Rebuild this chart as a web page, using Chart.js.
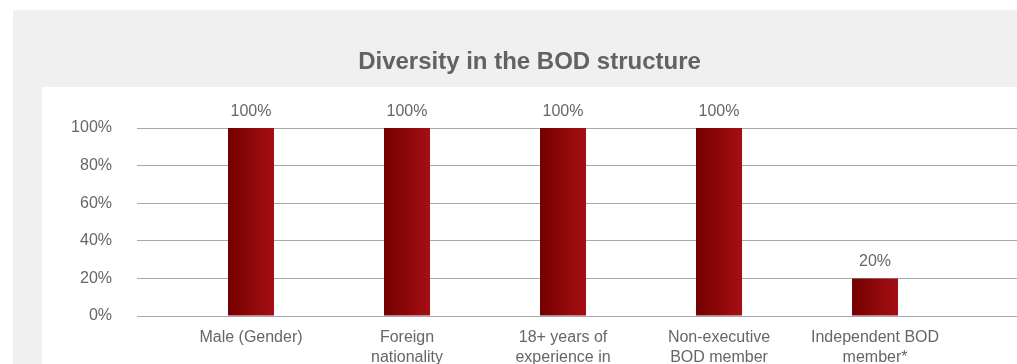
<!DOCTYPE html>
<html>
<head>
<meta charset="utf-8">
<script src="https://cdn.jsdelivr.net/npm/chart.js@4/dist/chart.umd.min.js"></script>
<style>
  html, body { margin: 0; padding: 0; background: #ffffff; overflow: hidden; width: 1017px; height: 364px; }
  #wrap { position: absolute; left: 0; top: 0; width: 1017px; height: 380px; }
</style>
</head>
<body>
<div id="wrap"><canvas id="c" width="1017" height="380"></canvas></div>
<script>
const title = 'Diversity in the BOD structure';
const categories = [
  ['Male (Gender)'],
  ['Foreign', 'nationality'],
  ['18+ years of', 'experience in'],
  ['Non-executive', 'BOD member'],
  ['Independent BOD', 'member*']
];
const values = [100, 100, 100, 100, 20];
const yTicks = [0, 20, 40, 60, 80, 100];

const FONT = "'Liberation Sans', Arial, Helvetica, sans-serif";
const TEXT = '#666666';
const GRID = '#a8a8a8';

const bgPlugin = {
  id: 'bg',
  beforeDraw(chart) {
    const ctx = chart.ctx;
    ctx.save();
    ctx.fillStyle = '#ffffff';
    ctx.fillRect(0, 0, chart.width, chart.height);
    ctx.fillStyle = '#f0f0f0';
    ctx.fillRect(13, 10, chart.width - 13, chart.height - 10);
    ctx.fillStyle = '#ffffff';
    ctx.fillRect(42, 87, chart.width - 42, chart.height - 87);
    ctx.restore();
  }
};

const labelPlugin = {
  id: 'valueLabels',
  afterDatasetsDraw(chart) {
    const ctx = chart.ctx;
    const meta = chart.getDatasetMeta(0);
    ctx.save();
    ctx.font = '16px ' + FONT;
    ctx.fillStyle = TEXT;
    ctx.textAlign = 'center';
    ctx.textBaseline = 'middle';
    meta.data.forEach((bar, i) => {
      ctx.fillText(values[i] + '%', bar.x, bar.y - 16.5);
    });
    ctx.restore();
  }
};

function barGradient(c) {
  const chart = c.chart;
  if (!chart.chartArea || c.dataIndex === undefined) return '#8a0a0e';
  const x = chart.scales.x.getPixelForValue(c.dataIndex);
  const half = 23;
  const g = chart.ctx.createLinearGradient(x - half, 0, x + half, 0);
  g.addColorStop(0, '#750000');
  g.addColorStop(0.5, '#8d0709');
  g.addColorStop(1, '#a50f16');
  return g;
}

new Chart(document.getElementById('c'), {
  type: 'bar',
  data: {
    datasets: [{
      data: values.map((v, i) => ({ x: i, y: v })),
      backgroundColor: barGradient,
      borderWidth: 0,
      categoryPercentage: 1,
      barPercentage: 0.295
    }]
  },
  options: {
    responsive: false,
    animation: false,
    devicePixelRatio: 1,
    layout: { padding: { left: 42, right: 0, top: 0, bottom: 0 } },
    plugins: {
      legend: { display: false },
      tooltip: { enabled: false },
      title: {
        display: true,
        text: title,
        color: '#626262',
        font: { family: FONT, size: 24, weight: 'bold', lineHeight: 1.2 },
        padding: { top: 47.6, bottom: 51.6 }
      }
    },
    scales: {
      x: {
        type: 'linear',
        offset: false,
        min: -0.5,
        max: 4.91,
        grid: { display: false, drawTicks: false, offset: false },
        border: { display: false },
        afterBuildTicks(scale) {
          scale.ticks = categories.map((_, i) => ({ value: i }));
        },
        afterFit(scale) { scale.height = 380 - 316; },
        ticks: {
          autoSkip: false,
          maxRotation: 0,
          minRotation: 0,
          padding: 12,
          color: TEXT,
          font: { family: FONT, size: 16, lineHeight: 1.25 },
          callback: (v, i) => categories[i]
        }
      },
      y: {
        min: 0,
        max: 100,
        afterBuildTicks(scale) {
          scale.ticks = yTicks.map(v => ({ value: v }));
        },
        afterFit(scale) { scale.width = 131; },
        grid: { color: GRID, lineWidth: 1, drawTicks: true, tickLength: 36, tickColor: GRID },
        border: { display: false },
        ticks: {
          padding: 25,
          color: TEXT,
          font: { family: FONT, size: 16 },
          callback: v => v + '%'
        }
      }
    }
  },
  plugins: [bgPlugin, labelPlugin]
});
</script>
</body>
</html>
